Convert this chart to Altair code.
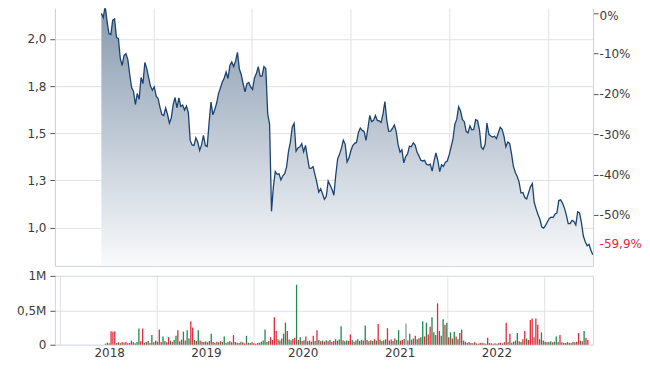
import altair as alt
import pandas as pd

# ---------------- data ----------------
start_date = "2018-06-22"          # first weekly observation
prices = [
    2.135, 2.113, 2.174, 2.094, 2.028, 2.023, 2.099, 2.106, 2.007, 2.002,
    1.896, 1.859, 1.912, 1.921, 1.890, 1.811, 1.742, 1.721, 1.652, 1.711,
    1.679, 1.795, 1.763, 1.875, 1.843, 1.795, 1.748, 1.728, 1.745, 1.696,
    1.684, 1.637, 1.599, 1.594, 1.634, 1.599, 1.553, 1.581, 1.652, 1.689,
    1.634, 1.687, 1.642, 1.649, 1.623, 1.644, 1.610, 1.462, 1.438, 1.435,
    1.475, 1.453, 1.409, 1.438, 1.488, 1.435, 1.430, 1.557, 1.665, 1.597,
    1.626, 1.660, 1.711, 1.740, 1.771, 1.793, 1.824, 1.790, 1.859, 1.877,
    1.853, 1.883, 1.928, 1.840, 1.811, 1.762, 1.719, 1.763, 1.769, 1.745,
    1.732, 1.793, 1.816, 1.853, 1.803, 1.803, 1.853, 1.843, 1.603, 1.547,
    1.086, 1.215, 1.297, 1.282, 1.285, 1.252, 1.274, 1.285, 1.322, 1.404,
    1.453, 1.533, 1.552, 1.405, 1.422, 1.428, 1.444, 1.402, 1.435, 1.375,
    1.315, 1.314, 1.323, 1.281, 1.240, 1.188, 1.206, 1.179, 1.150, 1.166,
    1.247, 1.226, 1.203, 1.171, 1.277, 1.364, 1.388, 1.421, 1.463, 1.441,
    1.348, 1.369, 1.407, 1.435, 1.446, 1.451, 1.504, 1.528, 1.515, 1.510,
    1.462, 1.525, 1.594, 1.562, 1.568, 1.594, 1.568, 1.565, 1.557, 1.602,
    1.668, 1.568, 1.510, 1.511, 1.525, 1.544, 1.508, 1.439, 1.400, 1.412,
    1.343, 1.376, 1.390, 1.432, 1.428, 1.449, 1.437, 1.400, 1.380, 1.357,
    1.353, 1.356, 1.335, 1.331, 1.336, 1.299, 1.352, 1.395, 1.356, 1.296,
    1.333, 1.324, 1.347, 1.353, 1.385, 1.426, 1.468, 1.547, 1.573, 1.640,
    1.619, 1.573, 1.561, 1.510, 1.502, 1.539, 1.518, 1.520, 1.572, 1.567,
    1.521, 1.426, 1.415, 1.440, 1.554, 1.494, 1.485, 1.480, 1.484, 1.471,
    1.501, 1.531, 1.520, 1.485, 1.428, 1.453, 1.446, 1.390, 1.324, 1.292,
    1.271, 1.241, 1.183, 1.186, 1.159, 1.152, 1.184, 1.216, 1.233, 1.134,
    1.099, 1.069, 1.044, 1.003, 0.997, 1.012, 1.031, 1.048, 1.055, 1.053,
    1.071, 1.078, 1.143, 1.147, 1.129, 1.103, 1.066, 1.021, 1.021, 1.038,
    1.032, 1.014, 1.083, 1.077, 1.025, 0.955, 0.925, 0.904, 0.911, 0.880, 0.856,
]

# weekly volume in thousands of shares
volumes_k = [
    15, 30, 20, 196, 190, 196, 25, 35, 20, 40,
    30, 45, 20, 25, 60, 35, 20, 40, 235, 50,
    235, 30, 40, 55, 25, 140, 35, 60, 45, 220,
    40, 120, 55, 35, 110, 60, 45, 70, 130, 210,
    50, 75, 190, 60, 210, 90, 340, 250, 70, 55,
    210, 60, 45, 40, 50, 35, 55, 160, 40, 30,
    45, 35, 50, 40, 120, 30, 40, 55, 35, 140,
    40, 30, 25, 45, 35, 20, 130, 30, 25, 35,
    20, 15, 25, 30, 45, 60, 220, 40, 55, 110,
    70, 400, 200, 80, 60, 90, 160, 320, 200, 75,
    60, 85, 100, 870, 70, 110, 55, 65, 120, 50,
    60, 45, 130, 55, 210, 70, 50, 60, 45, 65,
    50, 70, 45, 55, 80, 60, 75, 270, 65, 50,
    60, 55, 150, 70, 45, 60, 80, 55, 70, 60,
    280, 70, 50, 65, 55, 80, 60, 300, 75, 55,
    65, 80, 240, 60, 75, 55, 90, 70, 210, 60,
    70, 85, 310, 60, 160, 75, 90, 130, 80, 95,
    110, 340, 120, 320, 150, 260, 400, 180, 140, 600,
    200, 130, 370, 290, 320, 110, 180, 90, 190, 120,
    80, 170, 220, 60, 45, 30, 40, 25, 20, 35,
    20, 15, 25, 30, 20, 15, 100, 25, 20, 15,
    20, 15, 25, 30, 20, 35, 320, 40, 160, 30,
    45, 60, 170, 50, 40, 80, 200, 90, 70, 360,
    380, 110, 380, 290, 80, 180, 60, 45, 35, 40,
    50, 35, 45, 120, 40, 140, 35, 30, 25, 40,
    30, 25, 40, 35, 45, 170, 60, 50, 200, 100, 70,
]

# r = down (red), g = up (green), n = unchanged (grey)
vol_dir_blocks = [
    "grgrrrgrgr", "grrgrgrggr", "rgrgrgrggr", "rggrrgrggr", "grgrggrrgr",
    "grgrgrrgrg", "rgrggrgrgr", "grrgrrgrgr", "rrgrgggrgr", "rrrgrgggrg",
    "grrgrgrgrg", "rgrgrgrgrg", "rgrrgrggrg", "grrgrggrgr", "grgrgrgrgr",
    "grrgrgrggr", "rgnrgrgrgr", "ggrgrrggrr", "rggrgrgrgr", "grgrggrrgr",
    "grrgrgrrgr", "rgrrgrrgrg", "rggrgrrgrr", "rrrrggrgrg", "grggrrgrgr",
    "rgrgrrgrgrr",
]

x_domain = [(2018, 1, 1), (2023, 6, 17)]
year_lines = [2018, 2019, 2020, 2021, 2022, 2023]
price_ticks = [1.0, 1.25, 1.5, 1.75, 2.0]
price_domain = [0.797, 2.162]
pct_ticks = [0, -0.1, -0.2, -0.3, -0.4, -0.5]
vol_ticks = [0, 500, 1000]
vol_domain = [0, 1000]

# ---------------- tables ----------------
dates = pd.date_range(start_date, periods=len(prices), freq="7D")
price_df = pd.DataFrame({"date": dates, "price": prices})
vol_dirs = list("".join(vol_dir_blocks))
vol_df = pd.DataFrame({"date": dates[: len(volumes_k)], "vol": volumes_k,
                       "dir": vol_dirs[: len(volumes_k)]})

base_price = prices[0]
last_pct = prices[-1] / base_price - 1
last_label = f"{last_pct * 100:.1f}%".replace(".", ",")
pct_domain = [price_domain[0] / base_price - 1, price_domain[1] / base_price - 1]
pct_values = pct_ticks + [round(last_pct, 4)]

xdom = [alt.DateTime(year=y, month=m, date=d) for (y, m, d) in x_domain]
xvals = [alt.DateTime(year=y, month=1, date=1) for y in year_lines]

TEXT = "#3a3a3a"
RED = "#e3283a"
GREEN = "#1b8a4b"
GREY = "#8796ad"
W = 539
EXT = 46

gradient = alt.Gradient(
    gradient="linear",
    stops=[alt.GradientStop(color="#8699af", offset=0),
           alt.GradientStop(color="#f9fafb", offset=1)],
    x1=0, x2=0, y1=0, y2=1,
)

top_base = alt.Chart(price_df)
price_scale = alt.Scale(domain=price_domain, nice=False, zero=False)

area = top_base.mark_area(color=gradient, clip=True).encode(
    x=alt.X("date:T", scale=alt.Scale(domain=xdom),
            axis=alt.Axis(values=xvals, labels=False, ticks=False, grid=True,
                          domain=True, title=None)),
    y=alt.Y("price:Q", scale=price_scale,
            axis=alt.Axis(values=price_ticks, title=None, grid=True, domain=True,
                          labelExpr="replace(format(datum.value, '.1f'), '.', ',')",
                          minExtent=EXT, maxExtent=EXT, labelPadding=4)),
    y2=alt.datum(price_domain[0]),
)

line = top_base.mark_line(color="#1c4370", strokeWidth=1.3, clip=True).encode(
    x="date:T",
    y=alt.Y("price:Q", scale=price_scale),
)

price_layers = alt.layer(area, line)

LAST_TEST = "datum.value < -0.55"
pct_layer = top_base.transform_calculate(
    pct=f"datum.price / {base_price} - 1"
).mark_line(opacity=0, clip=True).encode(
    x="date:T",
    y=alt.Y("pct:Q", scale=alt.Scale(domain=pct_domain, nice=False, zero=False),
            axis=alt.Axis(orient="right", values=pct_values, title=None, grid=False,
                          domain=True, labelPadding=1,
                          labelExpr=f"{LAST_TEST} ? '{last_label}' : '' + round(datum.value * 100) + '%'",
                          labelColor={"condition": {"test": LAST_TEST, "value": RED},
                                      "value": TEXT},
                          tickOpacity={"condition": {"test": LAST_TEST, "value": 0},
                                       "value": 1},
                          labelOffset={"condition": [
                                           {"test": LAST_TEST, "value": -11},
                                           {"test": "datum.value > -0.05", "value": 2.5}],
                                       "value": 0})),
)

top = alt.layer(price_layers, pct_layer).resolve_scale(y="independent").properties(
    width=W, height=258
)

volume = alt.Chart(vol_df).mark_bar(size=1.3).encode(
    x=alt.X("date:T", scale=alt.Scale(domain=xdom),
            axis=alt.Axis(values=xvals, title=None, ticks=False, grid=True, domain=False,
                          labelOffset=49.4, labelFlush=False, labelOverlap=False,
                          labelPadding=3,
                          labelExpr="year(datum.value) > 2022 ? '' : timeFormat(datum.value, '%Y')")),
    y=alt.Y("vol:Q", scale=alt.Scale(domain=vol_domain, nice=False),
            axis=alt.Axis(values=vol_ticks, title=None, grid=True, domain=False,
                          minExtent=EXT, maxExtent=EXT, labelPadding=4,
                          labelExpr="datum.value == 0 ? '0' : datum.value >= 1000 ? '1M' : replace(format(datum.value / 1000, '.1f'), '.', ',') + 'M'")),
    color=alt.Color("dir:N", scale=alt.Scale(domain=["r", "g", "n"], range=[RED, GREEN, GREY]),
                    legend=None),
).properties(width=W, height=69, view=alt.ViewBackground(stroke="#d3d7de"))

chart = alt.vconcat(top, volume, spacing=10, bounds="flush").properties(
    padding={"left": 0, "top": 0, "right": 0, "bottom": 0},
    background="white",
).configure_view(stroke=None).configure_axis(
    labelFont="DejaVu Sans", labelFontSize=12, labelColor=TEXT,
    gridColor="#dfe2e7", domainColor="#cdd1d8", tickColor="#555555", tickSize=5,
)

chart.save("out.html", embed_options={"renderer": "svg", "actions": False})
